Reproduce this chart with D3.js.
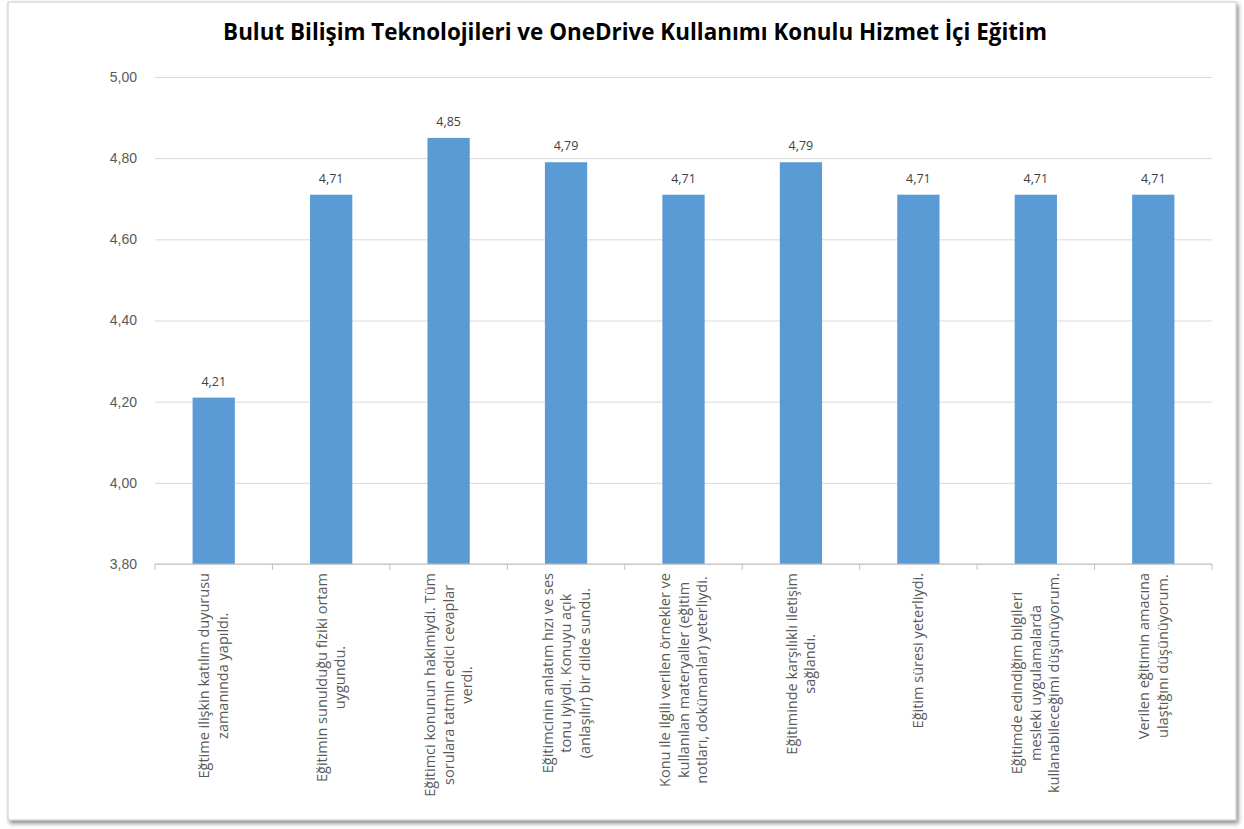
<!DOCTYPE html>
<html>
<head>
<meta charset="utf-8">
<script src="https://cdn.jsdelivr.net/npm/d3@7"></script>
<style>
  body { margin: 0; background: #fff; }
  svg { display: block; font-family: "Open Sans", Lato, sans-serif; }
</style>
</head>
<body>
<svg id="chart" width="1244" height="829"></svg>
<script>
// chart data
var chartTitle = "Bulut Bilişim Teknolojileri ve OneDrive Kullanımı Konulu Hizmet İçi Eğitim";
var categories = [
  ["Eğtime ilişkin katılım duyurusu", "zamanında yapıldı."],
  ["Eğitimin sunulduğu fiziki ortam", "uygundu."],
  ["Eğitimci konunun hakimiydi. Tüm", "sorulara tatmin edici cevaplar", "verdi."],
  ["Eğitimcinin anlatım hızı ve ses", "tonu iyiydi. Konuyu açık", "(anlaşılır) bir dilde sundu."],
  ["Konu ile ilgili verilen örnekler ve", "kullanılan materyaller (eğitim", "notları, dokümanlar) yeterliydi."],
  ["Eğitiminde karşılıklı iletişim", "sağlandı."],
  ["Eğitim süresi yeterliydi."],
  ["Eğitimde edindiğim bilgileri", "mesleki uygulamalarda", "kullanabileceğimi düşünüyorum."],
  ["Verilen eğitimin amacına", "ulaştığını düşünüyorum."]
];
var values = [4.21, 4.71, 4.85, 4.79, 4.71, 4.79, 4.71, 4.71, 4.71];
var yTicks = [3.8, 4.0, 4.2, 4.4, 4.6, 4.8, 5.0];

var svg = d3.select("#chart");
var fmt = function(v) { return d3.format(".2f")(v).replace(".", ","); };

// outer frame with a soft shadow
var defs = svg.append("defs");
var shadow = defs.append("filter").attr("id", "shadow")
  .attr("x", "-2%").attr("y", "-2%").attr("width", "104%").attr("height", "104%");
shadow.append("feDropShadow").attr("dx", 2).attr("dy", 3).attr("stdDeviation", 2)
  .attr("flood-color", "#000").attr("flood-opacity", 0.45);
svg.append("rect")
  .attr("x", 8).attr("y", 2).attr("width", 1228).attr("height", 818)
  .attr("fill", "#fff").attr("stroke", "#c8c8c8").attr("stroke-width", 1)
  .attr("filter", "url(#shadow)");

var margin = {left: 155, right: 32, top: 77, bottom: 265};
var width = 1244 - margin.left - margin.right;
var height = 829 - margin.top - margin.bottom;

var g = svg.append("g").attr("transform", "translate(" + margin.left + "," + margin.top + ")");

var x = d3.scaleBand().domain(d3.range(categories.length)).range([0, width]).paddingInner(0.64).paddingOuter(0.32);
var xOuter = d3.scaleBand().domain(d3.range(categories.length)).range([0, width]);
var y = d3.scaleLinear().domain([3.8, 5.0]).range([height, 0]);

// gridlines and y labels
g.append("g").attr("class", "grid")
  .call(d3.axisLeft(y).tickValues(yTicks).tickSize(-width).tickFormat(fmt).tickPadding(18))
  .call(function(a) {
    a.select(".domain").remove();
    a.selectAll("line").attr("stroke", "#d9d9d9").attr("stroke-width", 1);
    a.selectAll("text").attr("fill", "#595959").style("font-size", "14px");
  });

// bars
g.selectAll("rect.bar").data(values).enter().append("rect")
  .attr("class", "bar")
  .attr("x", function(d, i) { return x(i); })
  .attr("width", x.bandwidth())
  .attr("y", function(d) { return y(d); })
  .attr("height", function(d) { return height - y(d); })
  .attr("fill", "#5b9bd5");

// data labels
g.selectAll("text.val").data(values).enter().append("text")
  .attr("class", "val")
  .attr("x", function(d, i) { return x(i) + x.bandwidth() / 2; })
  .attr("y", function(d) { return y(d) - 12; })
  .attr("text-anchor", "middle")
  .attr("fill", "#404040")
  .style("font-size", "12.5px")
  .text(fmt);

// x axis line and tick marks at category boundaries
var axis = g.append("g").attr("transform", "translate(0," + height + ")");
axis.append("line").attr("x1", 0).attr("x2", width).attr("stroke", "#bfbfbf");
axis.selectAll("line.tick").data(d3.range(categories.length + 1)).enter().append("line")
  .attr("class", "tick")
  .attr("x1", function(i) { return i * xOuter.step(); })
  .attr("x2", function(i) { return i * xOuter.step(); })
  .attr("y1", 0).attr("y2", 6)
  .attr("stroke", "#bfbfbf");

// rotated multi-line category labels, block top aligned to axis
var lineGap = 18.5;
categories.forEach(function(lines, i) {
  var cx = xOuter(i) + xOuter.bandwidth() / 2;
  var lg = axis.append("g")
    .attr("transform", "translate(" + cx + ",9) rotate(-90)");
  var texts = lines.map(function(s, k) {
    return lg.append("text")
      .attr("y", (k - (lines.length - 1) / 2) * lineGap + 5)
      .attr("text-anchor", "middle")
      .attr("fill", "#595959")
      .style("font-size", "14.5px")
      .text(s);
  });
  var maxLen = d3.max(texts, function(t) { return t.node().getComputedTextLength(); });
  texts.forEach(function(t) { t.attr("x", -maxLen / 2); });
});

// title, sized to the reference width
var title = svg.append("text")
  .attr("x", 635).attr("y", 40)
  .attr("text-anchor", "middle")
  .attr("fill", "#000")
  .style("font-size", "20px").style("font-weight", "bold")
  .text(chartTitle);
var tw = title.node().getComputedTextLength();
title.style("font-size", (20 * 824 / tw) + "px");
</script>
</body>
</html>
